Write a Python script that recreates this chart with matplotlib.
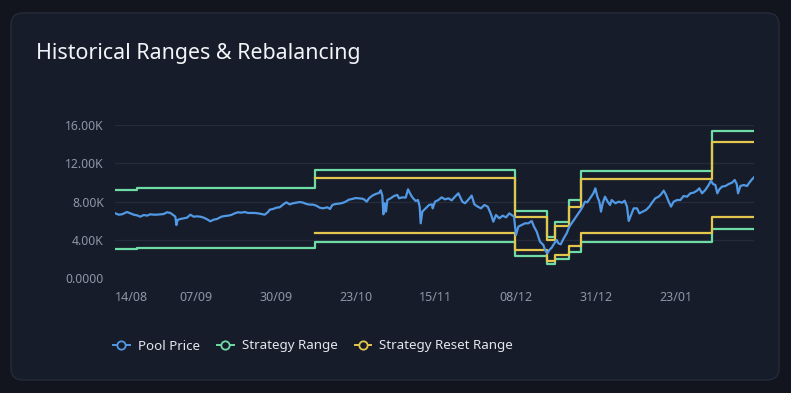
import numpy as np
import pandas as pd
import matplotlib
matplotlib.use("Agg")
import matplotlib.pyplot as plt
from matplotlib.lines import Line2D
from matplotlib.patches import FancyBboxPatch
from matplotlib.transforms import IdentityTransform

plt.rcParams['font.family'] = ['Noto Sans', 'DejaVu Sans']

start = pd.Timestamp('2023-08-14')

# pool price: day offset from 14/08 and price
price_day = [0.90, 1.86, 2.82, 4.26, 5.21, 6.17, 7.13, 8.09, 9.05, 10.01, 10.96, 11.92, 12.88, 13.84,
             14.80, 15.76, 16.71, 17.67, 18.15, 18.44, 18.82, 19.59, 20.55, 21.51, 22.46, 23.42,
             24.38, 25.34, 26.30, 27.26, 28.21, 29.17, 30.13,
             31.38, 32.34, 33.30, 34.25, 35.21, 36.17, 37.13, 38.09, 39.05, 40.00, 40.96, 41.92,
             42.88, 43.84, 44.80, 45.28, 46.23, 47.19, 48.15, 49.11, 50.07, 51.03, 51.98, 52.94,
             53.90, 54.86, 55.82, 56.78, 57.73, 58.69, 59.65, 60.61,
             61.86, 62.62, 63.29, 64.25, 65.21, 66.17, 67.13, 68.09, 69.04, 70.00, 70.96, 71.92,
             72.40, 73.17, 73.84, 74.79, 75.75, 76.71, 77.19, 77.67, 77.96, 78.34, 78.72, 79.11,
             80.06, 81.02, 81.98, 82.46, 83.42, 84.38, 85.05, 85.62, 86.29, 87.25, 87.92, 88.40,
             88.69, 89.17, 90.13, 91.09, 91.95,
             92.14, 92.81, 93.77, 94.73, 95.69, 96.65, 97.60, 98.56, 99.52, 100.19, 100.67, 101.44,
             102.40, 103.36, 104.12, 105.08, 106.04, 107.00, 107.96, 108.91, 109.58, 110.35,
             111.31, 112.27, 113.23, 114.19, 114.86, 115.53,
             116.10, 116.77, 117.73, 118.69, 119.65, 120.61, 121.28, 122.05, 123.00, 123.96,
             124.44, 125.11, 125.68, 126.36, 127.12, 127.80, 128.27, 128.95, 129.71, 130.67,
             131.44, 132.11, 133.07, 134.03, 134.70, 135.27, 135.94, 136.61, 137.38, 138.34,
             138.91, 139.49, 140.06, 140.54, 141.02, 141.69, 142.45, 143.13, 143.61,
             144.66, 145.62, 146.58, 147.35, 148.02, 148.50, 148.98, 149.93, 150.89, 151.56,
             152.52, 153.48, 154.44, 155.20, 156.16, 157.12, 157.89, 158.56, 159.23, 160.00,
             160.67, 161.43, 162.39, 163.35, 164.31, 165.27, 166.23, 167.19, 168.14, 168.81,
             169.58, 170.54, 171.50, 172.17, 172.75, 173.42, 173.99, 174.57, 175.33, 176.29,
             177.25, 178.21, 178.98, 179.56, 179.94, 180.61, 181.57, 182.52, 183.19, 183.95, 184.53]
price_val = [6780, 6640, 6680, 6920, 6780, 6640, 6570, 6430, 6610, 6540, 6680, 6640, 6640, 6680,
             6710, 6890, 6820, 6570, 6430, 5560, 6090, 6190, 6260, 6330, 6640, 6430,
             6470, 6430, 6330, 6160, 5950, 6120, 6190,
             6430, 6500, 6540, 6610, 6780, 6890, 6850, 6920, 6820, 6820, 6820, 6780,
             6710, 6640, 6920, 7160, 7230, 7370, 7410, 7690, 7930, 7720, 7830, 7900,
             7960, 7900, 7760, 7690, 7690, 7580, 7370, 7300,
             7410, 7230, 7650, 7760, 7790, 7860, 8000, 8210, 8280, 8380, 8350, 8310,
             8240, 8000, 8350, 8630, 8800, 8900, 9180, 8630, 6680, 7830, 6960, 8170,
             8350, 8590, 8700, 8350, 8450, 8420, 9290, 8870, 8450, 8070, 8170, 7480,
             5740, 6960, 7300, 7650, 7720,
             7300, 8000, 8170, 8450, 8240, 8350, 8140, 8520, 8870, 8350, 8000, 7830,
             8210, 8630, 7720, 7480, 7300, 7650, 7480, 6680, 5910, 6610,
             6260, 6540, 6360, 6780, 6610, 6430,
             4520, 5390, 5560, 5740, 5740, 5980, 5390, 4870, 3820, 3480,
             2950, 2610, 2950, 3200, 3650, 4000, 3650, 3550, 4100, 4700,
             5390, 5740, 6260, 6780, 7130, 7480, 8000, 7930, 8350, 8870,
             9390, 8520, 8000, 6960, 7830, 8520, 8000, 7650, 8170,
             7830, 8000, 7890, 8100, 7480, 5980, 6430, 7300, 7300, 6780,
             6960, 7130, 7480, 7890, 8350, 8520, 8800, 9150, 8700, 8000,
             7480, 8000, 8170, 8170, 8590, 8520, 8870, 8940, 9150, 9390,
             8870, 9220, 9740, 10190, 9840, 9740, 8870, 9290, 9570, 9630,
             9840, 9980, 10260, 9840, 8870, 9630, 9740, 9630, 9980, 10330, 10540]

# rebalance days and range bounds (last entry = end of data)
range_day = [0.80, 7.22, 58.31, 115.82, 124.93, 127.31, 131.43, 134.79, 172.37, 184.53]
range_upper = [9220, 9420, 11270, 6980, 4300, 5900, 8140, 11190, 15340, 15340]
range_lower = [3060, 3190, 3760, 2360, 1460, 2000, 2740, 3760, 5150, 5150]
reset_upper = [np.nan, np.nan, 10440, 6430, 4000, 5480, 7480, 10350, 14230, 14230]
reset_lower = [np.nan, np.nan, 4730, 2950, 1820, 2450, 3410, 4700, 6430, 6430]

y_ticks = [0, 4000, 8000, 12000, 16000]
y_labels = ['0.0000', '4.00K', '8.00K', '12.00K', '16.00K']
x_labels = ['14/08', '07/09', '30/09', '23/10', '15/11', '08/12', '31/12', '23/01']

bg = '#12151e'
card = '#171c2a'
grid = '#252b3b'
tick_c = '#8d96a8'
blue = '#5199e4'
green = '#6fdba5'
yellow = '#e3c74c'

fig = plt.figure(figsize=(7.91, 3.93), dpi=100, facecolor=bg)
fig.patches.append(FancyBboxPatch((11, 13), 768, 367, boxstyle='round,pad=0,rounding_size=12',
                                  transform=IdentityTransform(), facecolor=card,
                                  edgecolor='#262b3a', linewidth=1, zorder=-5))

fig.text(36 / 791, 1 - 53 / 393, 'Historical Ranges & Rebalancing', color='#f2f4f8',
         fontsize=15.4, va='center', ha='left')

ax = fig.add_axes([115 / 791, 1 - 278.3 / 393, 639 / 791, 153.3 / 393])
ax.set_facecolor('none')

t_price = start + pd.to_timedelta(price_day, unit='D')
t_range = start + pd.to_timedelta(range_day, unit='D')

ax.step(t_range, range_upper, where='post', color=green, lw=1.6)
ax.step(t_range, range_lower, where='post', color=green, lw=1.6)
ax.step(t_range, reset_upper, where='post', color=yellow, lw=1.6)
ax.step(t_range, reset_lower, where='post', color=yellow, lw=1.6)
ax.plot(t_price, price_val, color=blue, lw=1.6)

ax.set_xlim(t_range[0], t_range[-1])
ax.set_ylim(0, 16000)
ax.set_yticks(y_ticks)
ax.set_yticklabels(y_labels)
x_ticks = [t_range[0]] + list(pd.date_range('2023-09-07', periods=7, freq='23D'))
ax.set_xticks(x_ticks)
ax.set_xticklabels(x_labels)
ax.get_xticklabels()[0].set_ha('left')
for lab in ax.get_xticklabels():
    lab.set_fontweight('bold')

ax.tick_params(axis='y', length=0, pad=8, labelsize=8.8, labelcolor=tick_c)
ax.tick_params(axis='x', length=0, pad=9, labelsize=9, labelcolor=tick_c)
ax.grid(axis='y', color=grid, lw=1)
ax.set_axisbelow(True)
for s in ax.spines.values():
    s.set_visible(False)

handles = [Line2D([], [], color=c, lw=1.4, marker='o', ms=6, mfc=card, mec=c, mew=1.3)
           for c in (blue, green, yellow)]
fig.legend(handles, ['Pool Price', 'Strategy Range', 'Strategy Reset Range'],
           loc='center left', bbox_to_anchor=(113 / 791, 1 - 346 / 393), ncol=3,
           frameon=False, fontsize=9.6, labelcolor='#e3e6ec', handlelength=1.25,
           handletextpad=0.6, columnspacing=1.3, borderpad=0, borderaxespad=0)

fig.savefig('out.png', dpi=100, facecolor=bg)
